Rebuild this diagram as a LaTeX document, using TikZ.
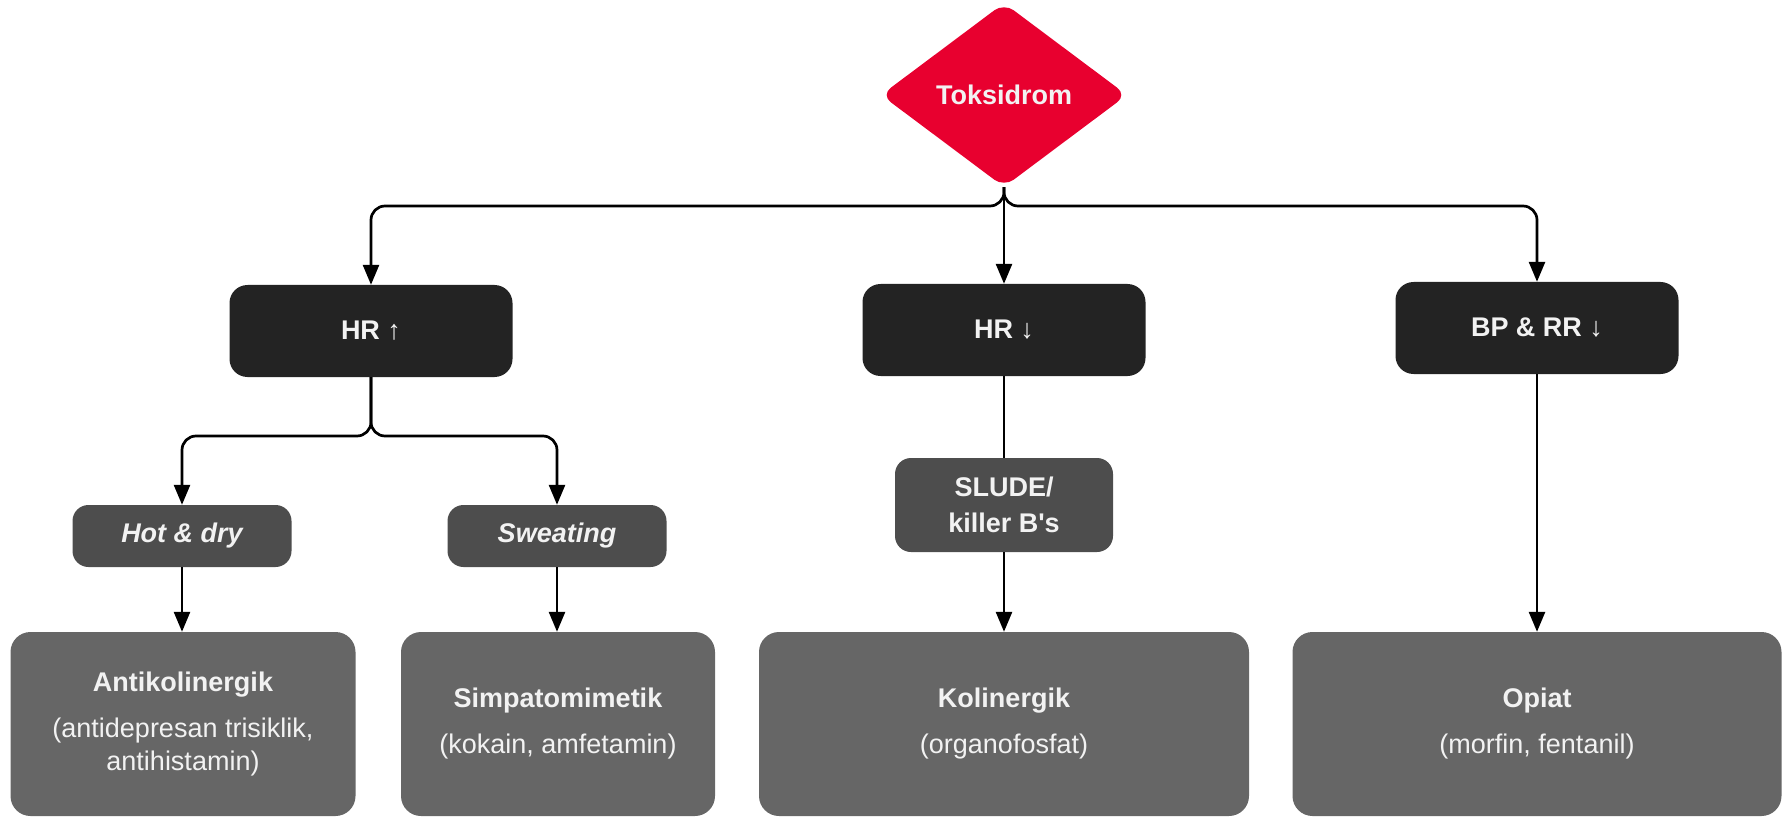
\documentclass[tikz,border=0pt]{standalone}
\usepackage{fontspec}
\setmainfont{Liberation Sans}
\usetikzlibrary{shapes.geometric,arrows.meta}
\definecolor{toxred}{HTML}{E8002F}
\definecolor{darkbox}{HTML}{232323}
\definecolor{midbox}{HTML}{4D4D4D}
\definecolor{lowbox}{HTML}{666666}
\definecolor{txt}{HTML}{F2F2F2}
\tikzset{
  lbl/.style={text=txt, font=\fontsize{27}{33}\selectfont, align=center, inner sep=0pt},
  darknode/.style={lbl, fill=darkbox, rounded corners=18pt, minimum width=283pt, minimum height=92pt, font=\fontsize{27}{33}\selectfont\bfseries},
  midnode/.style={lbl, fill=midbox, rounded corners=16pt, minimum width=219pt, minimum height=62pt, font=\fontsize{27}{36}\selectfont\bfseries\itshape},
  lownode/.style={lbl, fill=lowbox, rounded corners=20pt, minimum height=184pt},
  conn/.style={draw=black, line width=2.7pt},
  arr/.style={conn, -{Triangle[length=20pt,width=16pt]}},
}
\begin{document}
\begin{tikzpicture}[x=1pt,y=-1pt]
\useasboundingbox (0,0) rectangle (1785,818);
\node[diamond, fill=toxred, aspect=1.35, minimum width=246pt, minimum height=184pt, inner sep=0pt, rounded corners=12pt, text=txt, font=\fontsize{27}{33}\selectfont\bfseries] (toks) at (1004,95) {Toksidrom};

\node[darknode] (hrup) at (371,331) {HR ↑};
\node[darknode] (hrdn) at (1004,330) {HR ↓};
\node[darknode] (bprr) at (1537,328) {BP \& RR ↓};

\node[midnode] (hot) at (182,536) {Hot \& dry};
\node[midnode] (sweat) at (557,536) {Sweating};
\node[midnode, font=\fontsize{27}{36}\selectfont\bfseries, minimum height=94pt, minimum width=218pt] (slude) at (1004,505) {SLUDE/\\killer B\textquotesingle s};

\node[lownode, minimum width=345pt] (anti) at (183,724) {\textbf{Antikolinergik}\\[13pt](antidepresan trisiklik,\\antihistamin)};
\node[lownode, minimum width=314pt] (simp) at (558,724) {\textbf{Simpatomimetik}\\[13pt](kokain, amfetamin)};
\node[lownode, minimum width=490pt] (koli) at (1004,724) {\textbf{Kolinergik}\\[13pt](organofosfat)};
\node[lownode, minimum width=489pt] (opi) at (1537,724) {\textbf{Opiat}\\[13pt](morfin, fentanil)};

\coordinate (j1) at (1004,206);
\coordinate (j2) at (371,436);

\draw[arr, rounded corners=14pt] (toks.south) |- (hrup.north |- j1) -- (hrup.north);
\draw[arr, rounded corners=14pt] (toks.south) |- (bprr.north |- j1) -- (bprr.north);
\draw[arr] (toks.south) -- (hrdn.north);

\draw[arr, rounded corners=14pt] (hrup.south) |- (hot.north |- j2) -- (hot.north);
\draw[arr, rounded corners=14pt] (hrup.south) |- (sweat.north |- j2) -- (sweat.north);

\draw[conn] (hrdn.south) -- (slude.north);
\draw[arr] (slude.south) -- (koli.north);
\draw[arr] (hot.south) -- (hot.south |- anti.north);
\draw[arr] (sweat.south) -- (sweat.south |- simp.north);
\draw[arr] (bprr.south) -- (opi.north);
\end{tikzpicture}
\end{document}
